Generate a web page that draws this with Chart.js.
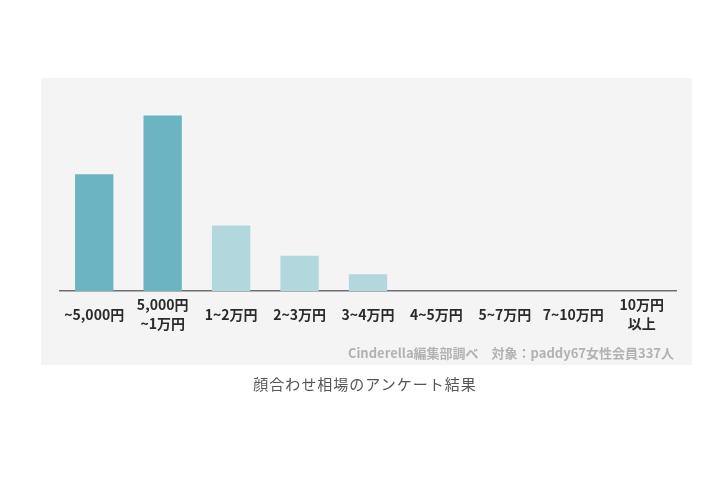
<!DOCTYPE html>
<html lang="ja">
<head>
  <meta charset="UTF-8" />
  <title>顔合わせ相場のアンケート結果</title>
  <script src="https://cdn.jsdelivr.net/npm/chart.js"></script>
  <style>
    body { margin: 0; background: #fff; width: 720px; height: 480px; position: relative; overflow: hidden;
           font-family: "Noto Sans CJK JP", "Noto Sans", sans-serif; }
    .panel { position: absolute; left: 41px; top: 78px; width: 651px; height: 287px; background: #f4f4f4; }
    #chart { position: absolute; left: 0; top: 0; }
    .source { position: absolute; right: 46px; top: 343px; font-size: 13px; font-weight: bold; color: #b2b2b2; white-space: pre; }
    .caption { position: absolute; left: 0; width: 730px; top: 373px; text-align: center; font-size: 15px; color: #555; letter-spacing: 1px; }
  </style>
</head>
<body>
  <div class="panel"></div>
  <canvas id="chart" width="720" height="480"></canvas>
  <div class="source">Cinderella編集部調べ　対象：paddy67女性会員337人</div>
  <div class="caption">顔合わせ相場のアンケート結果</div>

  <script>
    // 金額帯 (複数行ラベルは配列)
    const categories = ['~5,000円', ['5,000円', '~1万円'], '1~2万円', '2~3万円', '3~4万円', '4~5万円', '5~7万円', '7~10万円', ['10万円', '以上']];
    // 回答の割合(%) 画像から読み取り
    const shares = [28.5, 42.8, 16.0, 8.6, 4.1, 0, 0, 0, 0];
    const barColors = ['#6cb4c2', '#6cb4c2', '#b2d8de', '#b2d8de', '#b2d8de', '#b2d8de', '#b2d8de', '#b2d8de', '#b2d8de'];

    new Chart(document.getElementById('chart'), {
      type: 'bar',
      data: {
        labels: categories,
        datasets: [{ data: shares, backgroundColor: barColors, categoryPercentage: 1, barPercentage: 0.56 }]
      },
      options: {
        responsive: false,
        animation: false,
        layout: { padding: { left: 60, right: 44, top: 86, bottom: 139 } },
        plugins: { legend: { display: false }, tooltip: { enabled: false } },
        scales: {
          x: {
            grid: { display: false, drawTicks: false },
            border: { display: true, color: '#6f6f6f', width: 1.5 },
            ticks: {
              color: '#2a2a2a', padding: 14, maxRotation: 0, autoSkip: false, crossAlign: 'center',
              font: { family: '"Noto Sans CJK JP", sans-serif', size: 14, weight: 'bold', lineHeight: 1.35 }
            },
            afterFit: s => { s.height = 50; }
          },
          y: { display: false, min: 0, max: 50 }
        }
      }
    });
  </script>
</body>
</html>
